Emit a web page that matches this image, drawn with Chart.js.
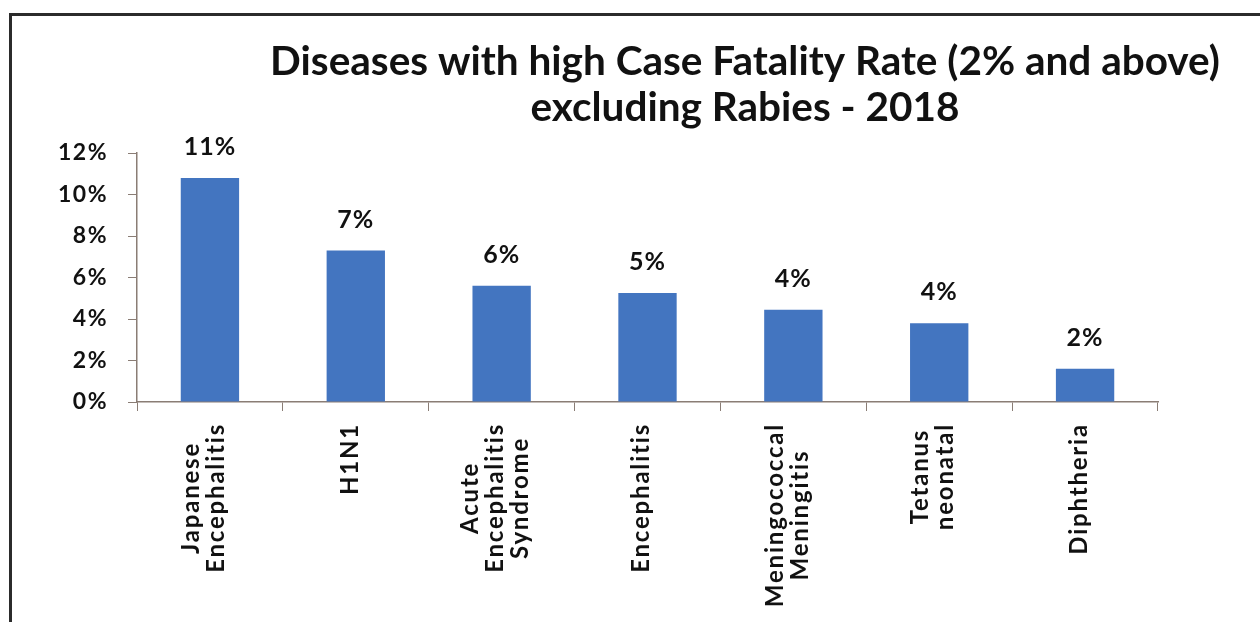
<!DOCTYPE html>
<html>
<head>
<meta charset="utf-8">
<script src="https://cdn.jsdelivr.net/npm/chart.js@4/dist/chart.umd.min.js"></script>
<style>
  html, body { margin: 0; padding: 0; background: #fff; }
  #wrap { position: relative; width: 1260px; height: 622px; overflow: hidden; }
  #frame { position: absolute; left: 9px; top: 13px; right: -10px; bottom: -10px;
           border-top: 3px solid #2b2b2b; border-left: 3px solid #2b2b2b; }
  canvas { position: absolute; left: 0; top: 0; }
</style>
</head>
<body>
<div id="wrap">
  <div id="frame"></div>
  <canvas id="chart" width="1260" height="622"></canvas>
</div>
<script>
const titleLines = ['Diseases with high Case Fatality Rate (2% and above)', 'excluding Rabies - 2018'];
const categories = [
    ['Japanese', 'Encephalitis'],
    ['H1N1'],
    ['Acute', 'Encephalitis', 'Syndrome'],
    ['Encephalitis'],
    ['Meningococcal', 'Meningitis'],
    ['Tetanus', 'neonatal'],
    ['Diphtheria']
];
const fatalityRates = [10.8, 7.3, 5.6, 5.25, 4.45, 3.8, 1.6];
const yTicks = [0, 2, 4, 6, 8, 10, 12];

const FONT = 'Lato, "Open Sans", sans-serif';

// the picture's text looks spread out, so the tick labels get letter spacing too
const spacing = {
    id: 'spacing',
    beforeDraw(chart) { chart.ctx.letterSpacing = '1.5px'; }
};

// title, bar value labels and rotated category labels
const drawTexts = {
    id: 'drawTexts',
    afterDraw(chart) {
        const ctx = chart.ctx;
        ctx.save();
        ctx.fillStyle = '#111';
        ctx.textAlign = 'center';
        ctx.textBaseline = 'alphabetic';
        ctx.letterSpacing = '0px';
        ctx.font = 'bold 40.5px ' + FONT;
        ctx.fillText(titleLines[0], 745, 75);
        ctx.fillText(titleLines[1], 745, 121);

        const meta = chart.getDatasetMeta(0);
        ctx.letterSpacing = '1px';
        ctx.font = 'bold 25px ' + FONT;
        ctx.textBaseline = 'middle';
        meta.data.forEach((bar, i) => {
            ctx.fillText(Math.round(fatalityRates[i]) + '%', bar.x, bar.y - 31);
        });

        const xScale = chart.scales.x;
        const top = xScale.top + 21;
        ctx.letterSpacing = '1.8px';
        ctx.font = 'bold 24px ' + FONT;
        categories.forEach((lines, i) => {
            const x = xScale.getPixelForTick(i) - 6;
            const maxW = Math.max(...lines.map((l) => ctx.measureText(l).width));
            ctx.save();
            ctx.translate(x, top + maxW / 2);
            ctx.rotate(-Math.PI / 2);
            lines.forEach((line, k) => {
                ctx.fillText(line, 0, (k - (lines.length - 1) / 2) * 25);
            });
            ctx.restore();
        });
        ctx.restore();
    }
};

new Chart(document.getElementById('chart').getContext('2d'), {
    type: 'bar',
    data: {
        labels: categories.map((c) => c.join(' ')),
        datasets: [{
            data: fatalityRates,
            backgroundColor: '#4375c0',
            borderWidth: 0,
            categoryPercentage: 1,
            barPercentage: 0.4
        }]
    },
    options: {
        responsive: false,
        animation: false,
        layout: { padding: { top: 153, right: 102, left: 0, bottom: 0 } },
        plugins: {
            legend: { display: false },
            title: { display: false },
            tooltip: { enabled: false }
        },
        scales: {
            x: {
                afterFit(scale) { scale.height = 220; },
                grid: { drawOnChartArea: false, drawTicks: true, tickLength: 9, color: '#8a7d75', offset: true },
                border: { color: '#8a7d75', width: 1.5 },
                ticks: { display: false }
            },
            y: {
                min: 0,
                max: 12,
                afterFit(scale) { scale.width = 137; },
                afterBuildTicks(scale) { scale.ticks = yTicks.map((v) => ({ value: v })); },
                grid: { drawOnChartArea: false, drawTicks: true, tickLength: 9, color: '#8a7d75' },
                border: { color: '#8a7d75', width: 1.5 },
                ticks: {
                    padding: 20,
                    color: '#111',
                    font: { family: FONT, size: 23, weight: 'bold' },
                    callback: (v) => v + '%'
                }
            }
        }
    },
    plugins: [spacing, drawTexts]
});
</script>
</body>
</html>
